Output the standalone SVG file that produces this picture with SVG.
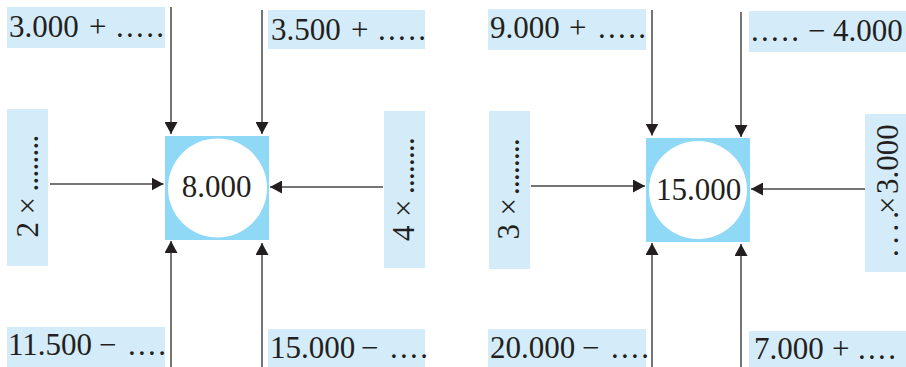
<svg xmlns="http://www.w3.org/2000/svg" width="906" height="367" viewBox="0 0 906 367">
  <style>
    .box { fill: #d4ecf9; }
    .core { fill: #8fd8f6; }
    .hole { fill: #ffffff; }
    .t { font-family: "Liberation Serif", "DejaVu Serif", serif; font-size: 31px; fill: #231f20; }
    .dots { letter-spacing: 2.3px; }
    .vdots { letter-spacing: -0.75px; }
    .wdots { letter-spacing: 5px; }
    .link { stroke: #474747; stroke-width: 1.5; fill: none; marker-end: url(#head); }
  </style>
  <defs>
    <marker id="head" markerUnits="userSpaceOnUse" markerWidth="12" markerHeight="13" refX="12" refY="6.5" orient="auto">
      <path d="M0,0 L12,6.5 L0,13 z" fill="#231f20"/>
    </marker>
  </defs>

  <rect width="906" height="367" fill="#ffffff"/>

  <!-- left puzzle: target 8.000 -->
  <g id="target-8000">
    <rect class="core" x="165" y="136" width="104" height="104"/>
    <circle class="hole" cx="217.5" cy="188" r="49.5"/>
    <text class="t" x="216.5" y="197" text-anchor="middle">8.000</text>
  </g>
  <g id="p1-top-left">
    <rect class="box" x="7" y="7" width="158" height="41"/>
    <text class="t" y="37"><tspan x="9">3.000</tspan><tspan x="89">+</tspan><tspan x="116" class="dots">.....</tspan></text>
  </g>
  <g id="p1-top-right">
    <rect class="box" x="268" y="10" width="157" height="39"/>
    <text class="t" y="40"><tspan x="271">3.500</tspan><tspan x="351">+</tspan><tspan x="378" class="dots">.....</tspan></text>
  </g>
  <g id="p1-left">
    <rect class="box" x="7" y="109" width="41" height="157"/>
    <text class="t" transform="translate(38,237.5) rotate(-90)"><tspan x="0">2</tspan><tspan x="23">×</tspan><tspan x="46" class="vdots">........</tspan></text>
  </g>
  <g id="p1-right">
    <rect class="box" x="384" y="111" width="41" height="157"/>
    <text class="t" transform="translate(414,241) rotate(-90)"><tspan x="0">4</tspan><tspan x="24">×</tspan><tspan x="47" class="vdots">........</tspan></text>
  </g>
  <g id="p1-bottom-left">
    <rect class="box" x="7" y="327" width="158" height="40"/>
    <text class="t" y="355"><tspan x="8">11.500</tspan><tspan x="99">−</tspan><tspan x="128" class="dots">....</tspan></text>
  </g>
  <g id="p1-bottom-right">
    <rect class="box" x="268" y="329" width="157" height="38"/>
    <text class="t" y="358"><tspan x="270">15.000</tspan><tspan x="361">−</tspan><tspan x="390" class="dots">....</tspan></text>
  </g>

  <!-- right puzzle: target 15.000 -->
  <g id="target-15000">
    <rect class="core" x="646" y="138" width="104" height="104"/>
    <circle class="hole" cx="698" cy="190" r="49"/>
    <text class="t" x="698.5" y="200" text-anchor="middle">15.000</text>
  </g>
  <g id="p2-top-left">
    <rect class="box" x="488" y="9" width="158" height="41"/>
    <text class="t" y="38"><tspan x="490">9.000</tspan><tspan x="569">+</tspan><tspan x="598" class="dots">.....</tspan></text>
  </g>
  <g id="p2-top-right">
    <rect class="box" x="749" y="11" width="157" height="41"/>
    <text class="t" y="40.5"><tspan x="751" class="dots">.....</tspan><tspan x="808">−</tspan><tspan x="833">4.000</tspan></text>
  </g>
  <g id="p2-left">
    <rect class="box" x="489" y="111" width="41" height="158"/>
    <text class="t" transform="translate(519,239.5) rotate(-90)"><tspan x="0">3</tspan><tspan x="24">×</tspan><tspan x="44.5" class="vdots">........</tspan></text>
  </g>
  <g id="p2-right">
    <rect class="box" x="865" y="114" width="41" height="158"/>
    <text class="t" transform="translate(898,258) rotate(-90)"><tspan x="1" class="wdots">....</tspan><tspan x="44">×</tspan><tspan x="64">3.000</tspan></text>
  </g>
  <g id="p2-bottom-left">
    <rect class="box" x="488" y="329" width="158" height="38"/>
    <text class="t" y="358"><tspan x="490">20.000</tspan><tspan x="582">−</tspan><tspan x="611" class="dots">....</tspan></text>
  </g>
  <g id="p2-bottom-right">
    <rect class="box" x="749" y="331" width="157" height="36"/>
    <text class="t" y="359"><tspan x="754">7.000</tspan><tspan x="832">+</tspan><tspan x="858" class="dots">....</tspan></text>
  </g>

  <!-- arrows feeding each target -->
  <g id="connectors">
    <line class="link" x1="171" y1="7" x2="171" y2="134"/>
    <line class="link" x1="262" y1="10" x2="262" y2="134"/>
    <line class="link" x1="50" y1="184" x2="163.5" y2="184"/>
    <line class="link" x1="383" y1="187" x2="270" y2="187"/>
    <line class="link" x1="171" y1="367" x2="171" y2="241"/>
    <line class="link" x1="262" y1="367" x2="262" y2="243"/>

    <line class="link" x1="652" y1="10" x2="652" y2="135.5"/>
    <line class="link" x1="741" y1="12" x2="741" y2="137"/>
    <line class="link" x1="531" y1="186" x2="645" y2="186"/>
    <line class="link" x1="865" y1="189" x2="751" y2="189"/>
    <line class="link" x1="652" y1="367" x2="652" y2="243"/>
    <line class="link" x1="741" y1="367" x2="741" y2="244"/>
  </g>
</svg>
